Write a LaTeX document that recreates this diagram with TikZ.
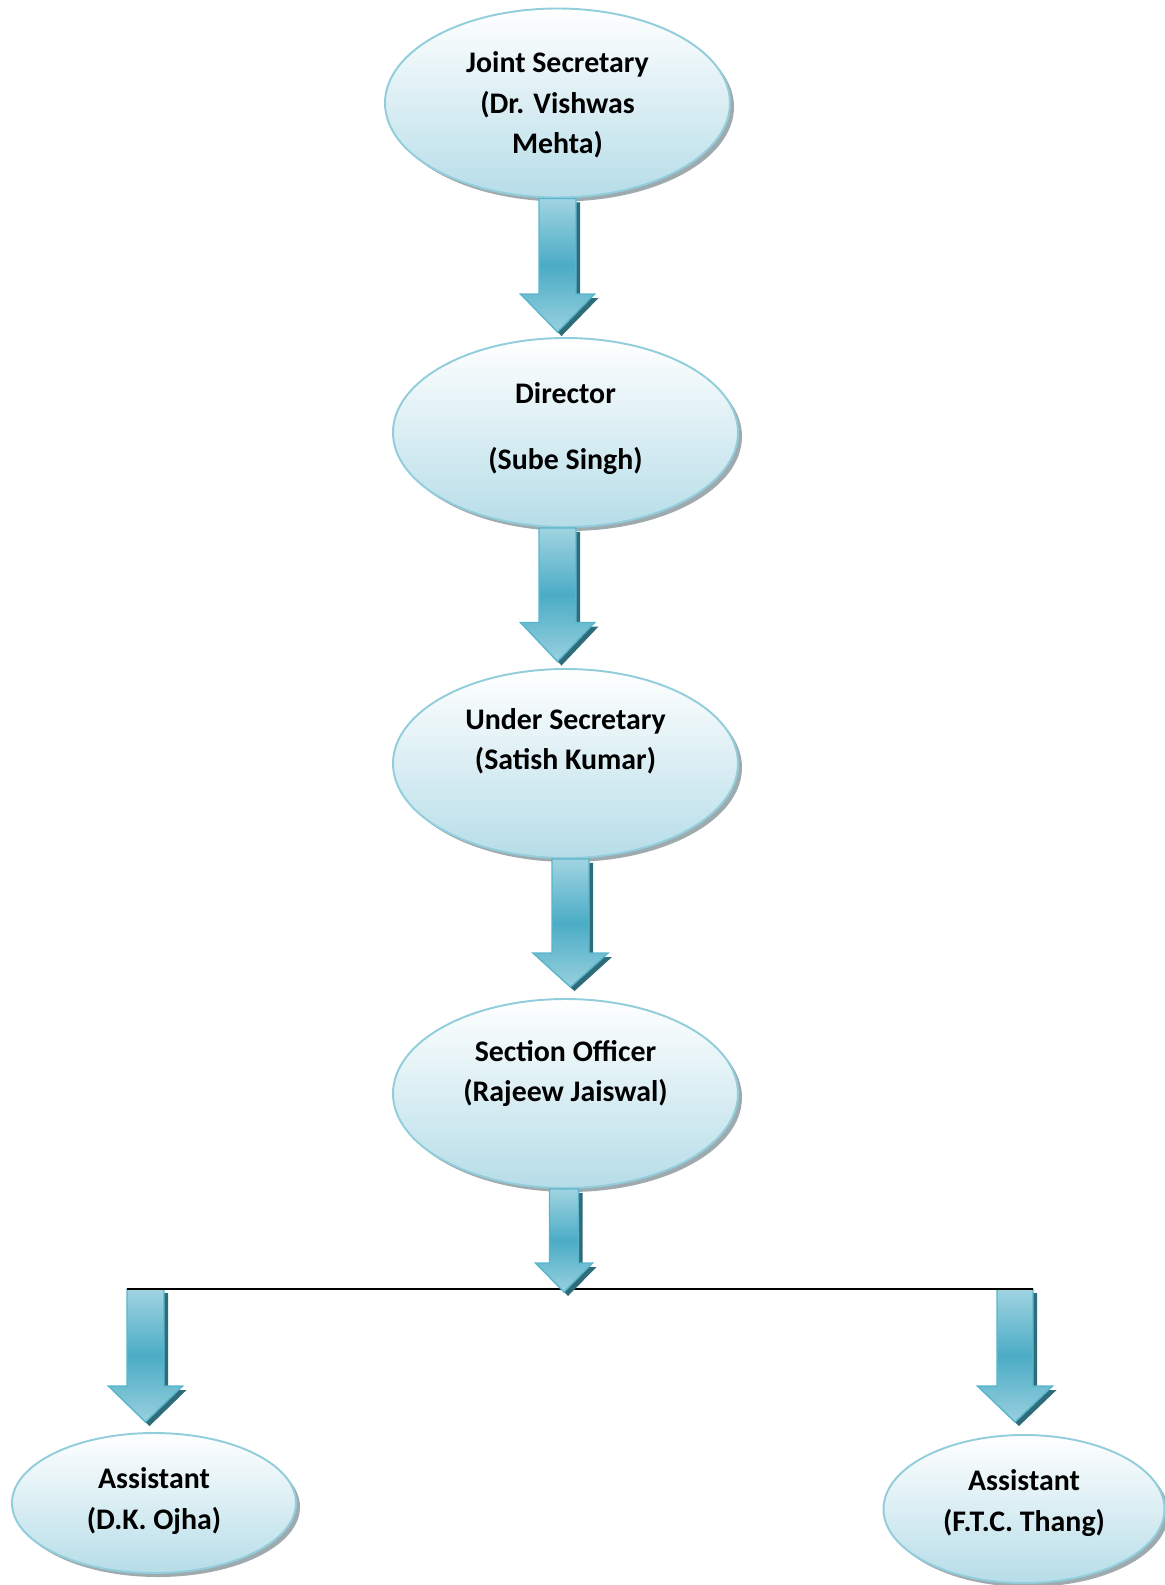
\documentclass[tikz,border=0pt]{standalone}
\usepackage{fontspec}
\setmainfont{Carlito}
\usetikzlibrary{shapes.geometric,shadows,calc}

\definecolor{ovalline}{HTML}{92CDDC}
\definecolor{ovallow}{HTML}{B6DDE8}
\definecolor{ovalshadow}{HTML}{9FAAAF}
\definecolor{arrowlight}{HTML}{A0D4E1}
\definecolor{arrowmid}{HTML}{4BACC6}
\definecolor{arrowline}{HTML}{5AB5CC}
\definecolor{arrowdark}{HTML}{2F6C7A}

\newcommand\blockarrow[6]{%
  \path (#1) coordinate (as);
  \path ($(as |- #2)+(0,#3)$) coordinate (at);
  \fill[arrowdark,transform canvas={xshift=0.08cm,yshift=-0.08cm}] ($(as)+(-#4,0)$) -- ($(at)+(-#4,-#6)$) -- ($(at)+(-#5,-#6)$) -- (at) -- ($(at)+(#5,-#6)$) -- ($(at)+(#4,-#6)$) -- ($(as)+(#4,0)$) -- cycle;
  \draw[blockbody] ($(as)+(-#4,0)$) -- ($(at)+(-#4,-#6)$) -- ($(at)+(-#5,-#6)$) -- (at) -- ($(at)+(#5,-#6)$) -- ($(at)+(#4,-#6)$) -- ($(as)+(#4,0)$) -- cycle;
}

\begin{document}
\begin{tikzpicture}[x=0.02cm,y=-0.02cm,
  post/.style={ellipse,draw=ovalline,line width=1.1pt,top color=white,bottom color=ovallow,inner sep=0pt,
    drop shadow={shadow xshift=0.08cm,shadow yshift=-0.08cm,fill=ovalshadow,opacity=1}},
  postname/.style={align=center,inner sep=0pt,font=\bfseries\fontsize{17}{23}\selectfont},
  blockbody/.style={draw=arrowline,line width=0.8pt,top color=arrowlight,bottom color=arrowlight!90!arrowmid,middle color=arrowmid}]
\useasboundingbox (0,0) rectangle (1165,1585);
\foreach \x/\y/\w/\h/\n/\ty/\t in {557.5/103/345/189/js/105/{Joint Secretary\\(Dr. Vishwas\\Mehta)},
    565.5/432.5/345/189/dir/428.5/{Director\\[15pt](Sube Singh)},
    565.5/763.5/345/189/us/741.5/{Under Secretary\\(Satish Kumar)},
    565.5/1093.5/345/189/so/1073.5/{Section Officer\\(Rajeew Jaiswal)},
    154/1503/284/140/asl/1501/{Assistant\\(D.K. Ojha)},
    1024/1509/281/148/asr/1503/{Assistant\\(F.T.C. Thang)}}
  {\node[post,minimum width=\w*0.02cm,minimum height=\h*0.02cm] (\n) at (\x,\y) {};
   \node[postname] at (\x,\ty) {\t};}
\coordinate (lbar) at (145.5,1289);
\coordinate (rbar) at (1015,1289);
\blockarrow{js.south}{dir.north}{-5}{18.5}{37}{38}
\blockarrow{[xshift=-0.16cm]dir.south}{us.north}{-6.5}{18.5}{37}{39}
\blockarrow{[xshift=0.1cm]us.south}{so.north}{-11}{18.5}{37.5}{34}
\blockarrow{lbar}{asl.north}{-10}{18.5}{37}{36}
\blockarrow{rbar}{asr.north}{-12}{18}{37.5}{36}
\draw[line width=0.9pt] ([xshift=-0.37cm]lbar) -- ([xshift=0.36cm]rbar);
\blockarrow{[xshift=-0.03cm]so.south}{lbar}{3}{14.5}{28.5}{29}
\end{tikzpicture}
\end{document}
